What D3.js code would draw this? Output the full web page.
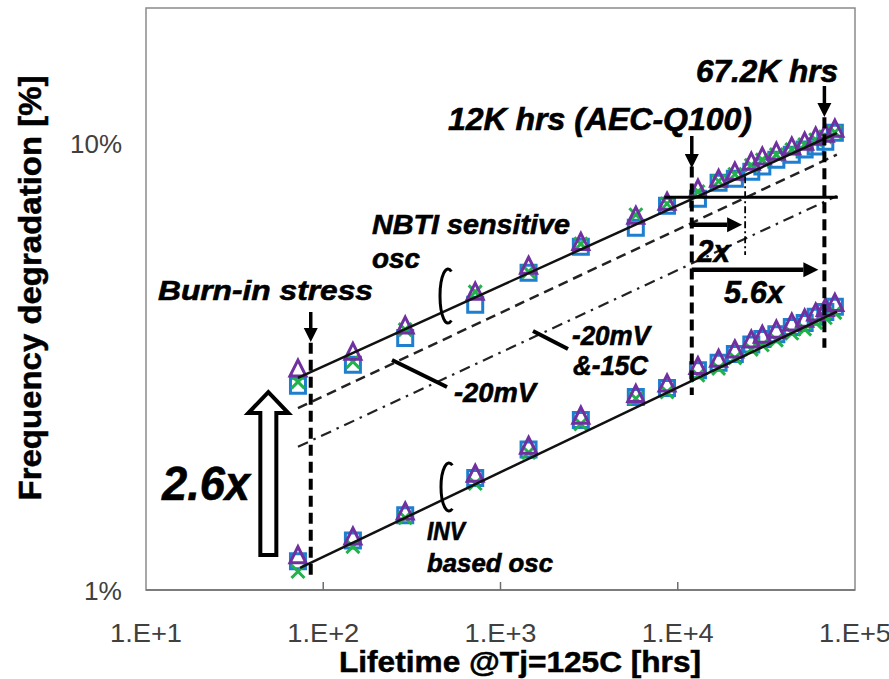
<!DOCTYPE html>
<meta charset="utf-8">
<head>
    <title>Frequency degradation vs lifetime</title>
    <style>
        html, body { margin: 0; padding: 0; background: #fff; }
        body { font-family: "Liberation Sans", Arial, sans-serif; }
        svg text { font-family: "Liberation Sans", Arial, sans-serif; }
        .note { font-weight: bold; font-style: italic; fill: #000; stroke: #000; stroke-width: 0.6; }
        .tick-label { fill: #404040; }
        .axis-title { font-weight: bold; fill: #000; stroke: #000; stroke-width: 0.5; }
    </style>
</head>
<body>
    <svg id="chart" width="889" height="679"></svg>
    <script src="https://cdn.jsdelivr.net/npm/d3@7"></script>
    <script>
        // stress time points [hrs @ Tj=125C]
        const hours = [72, 147, 290, 720, 1440, 2840, 5800, 8700, 13000, 17000,
                       21000, 26000, 30000, 36000, 44000, 52000, 60000, 68000, 77000];

        // NBTI sensitive oscillator, degradation [%]
        const nbtiTri = [3.11, 3.39, 3.88, 4.62, 5.28, 5.97, 6.83, 7.34, 7.85, 8.26,
                         8.57, 9.02, 9.26, 9.50, 9.75, 10.0, 10.26, 10.42, 10.69];
        const nbtiSq  = [2.86, 3.19, 3.66, 4.34, 5.12, 5.85, 6.45, 7.23, 7.49, 8.14,
                         8.30, 8.61, 8.84, 9.16, 9.40, 9.65, 9.80, 10.05, 10.53];
        const nbtiX   = [2.92, 3.24, 3.82, 4.64, 5.15, 5.94, 6.90, 7.30, 7.77, 8.20,
                         8.50, 8.90, 9.15, 9.40, 9.65, 9.90, 10.15, 10.30, 10.55];

        // INV based oscillator, degradation [%]
        const invTri = [1.19, 1.31, 1.49, 1.81, 2.09, 2.44, 2.73, 2.88, 3.15, 3.27,
                        3.43, 3.61, 3.70, 3.80, 3.94, 4.02, 4.15, 4.25, 4.36];
        const invSq  = [1.16, 1.29, 1.47, 1.78, 2.06, 2.40, 2.70, 2.83, 3.10, 3.22,
                        3.37, 3.54, 3.64, 3.73, 3.87, 3.95, 4.08, 4.18, 4.30];
        const invX   = [1.10, 1.25, 1.45, 1.73, 2.03, 2.35, 2.68, 2.77, 3.02, 3.13,
                        3.30, 3.45, 3.53, 3.62, 3.75, 3.83, 3.96, 4.06, 4.17];

        // power-law fits and shifted conditions: [hrs, %]
        const nbtiFit   = [[72, 2.98], [79000, 10.5]];
        const invFit    = [[74, 1.12], [79000, 4.19]];
        const fit20mV   = [[72, 2.55], [79000, 9.4]];
        const fit20mV15 = [[72, 2.09], [79000, 7.6]];

        // lifetime markers [hrs]
        const burnIn = 85, aecQ100 = 12000, lifetime2x = 24000, lifetime56x = 67200;
        const targetLevel = 7.55;

        const xTicks = [10, 100, 1000, 10000, 100000];
        const xTickLabels = ["1.E+1", "1.E+2", "1.E+3", "1.E+4", "1.E+5"];
        const yTicks = [1, 10];
        const yTickLabels = ["1%", "10%"];

        const colTri = "#7030a0", colSq = "#1f7fcf", colX = "#21b24b";

        const svg = d3.select("#chart");
        const margin = {left: 146, top: 8, right: 34, bottom: 89};
        const W = 889 - margin.left - margin.right;
        const H = 679 - margin.top - margin.bottom;

        const x = d3.scaleLog().domain([10, 100000]).range([0, W]);
        const y = d3.scaleLog().domain([1, 20]).range([H, 0]);

        const g = svg.append("g").attr("transform", `translate(${margin.left},${margin.top})`);

        // plot frame
        g.append("rect").attr("x", 0).attr("y", 0).attr("width", W).attr("height", H)
            .attr("fill", "none").attr("stroke", "#8a8a8a").attr("stroke-width", 1.5);
        g.append("line").attr("x1", 0).attr("x2", W).attr("y1", H).attr("y2", H)
            .attr("stroke", "#6e6e6e").attr("stroke-width", 1.5);

        // x ticks + labels
        g.selectAll(".xtick").data(xTicks.slice(1, -1)).join("line")
            .attr("x1", d => x(d)).attr("x2", d => x(d))
            .attr("y1", H).attr("y2", H - 8)
            .attr("stroke", "#6e6e6e").attr("stroke-width", 1.5);
        g.selectAll(".xlab").data(xTicks).join("text")
            .attr("class", "tick-label")
            .attr("x", d => x(d)).attr("y", H + 52)
            .attr("text-anchor", "middle").attr("font-size", 26)
            .attr("textLength", 72).attr("lengthAdjust", "spacingAndGlyphs")
            .text((d, i) => xTickLabels[i]);
        g.selectAll(".ylab").data(yTicks).join("text")
            .attr("class", "tick-label")
            .attr("x", -24).attr("y", d => y(d) + 10)
            .attr("text-anchor", "end").attr("font-size", 26)
            .attr("textLength", (d, i) => yTickLabels[i].length === 2 ? 38 : 52)
            .attr("lengthAdjust", "spacingAndGlyphs")
            .text((d, i) => yTickLabels[i]);

        // axis titles
        svg.append("text").attr("class", "axis-title")
            .attr("x", 520).attr("y", 672).attr("text-anchor", "middle")
            .attr("font-size", 29).attr("textLength", 362).attr("lengthAdjust", "spacingAndGlyphs")
            .text("Lifetime @Tj=125C [hrs]");
        svg.append("text").attr("class", "axis-title")
            .attr("transform", "translate(41,288) rotate(-90)").attr("text-anchor", "middle")
            .attr("font-size", 31).attr("textLength", 425).attr("lengthAdjust", "spacingAndGlyphs")
            .text("Frequency degradation [%]");

        const line = d3.line().x(d => x(d[0])).y(d => y(d[1]));

        // shifted-condition lines
        g.append("path").attr("d", line(fit20mV)).attr("fill", "none")
            .attr("stroke", "#222").attr("stroke-width", 2.5).attr("stroke-dasharray", "10,6");
        g.append("path").attr("d", line(fit20mV15)).attr("fill", "none")
            .attr("stroke", "#222").attr("stroke-width", 2.2).attr("stroke-dasharray", "11,6,2.5,6");

        // marker helpers
        function drawSeries(vals, shape, color) {
            const pts = hours.map((h, i) => [x(h), y(vals[i])]);
            let path;
            if (shape === "tri") path = "M0,-9.5L8,6.5L-8,6.5Z";
            else if (shape === "sq") path = "M-7.5,-7.5H7.5V7.5H-7.5Z";
            else path = "M-6.5,-6.5L6.5,6.5M6.5,-6.5L-6.5,6.5";
            g.append("g").selectAll("path").data(pts).join("path")
                .attr("transform", d => `translate(${d[0]},${d[1]})`)
                .attr("d", path).attr("fill", "none")
                .attr("stroke", color).attr("stroke-width", 3);
        }
        drawSeries(nbtiSq, "sq", colSq);
        drawSeries(nbtiX, "x", colX);
        drawSeries(nbtiTri, "tri", colTri);
        drawSeries(invSq, "sq", colSq);
        drawSeries(invX, "x", colX);
        drawSeries(invTri, "tri", colTri);

        // fit lines
        [nbtiFit, invFit].forEach(f => {
            g.append("path").attr("d", line(f)).attr("fill", "none")
                .attr("stroke", "#111").attr("stroke-width", 2.5);
        });

        // vertical lifetime lines
        function vDash(t, lo, hi, w, dash) {
            g.append("line").attr("x1", x(t)).attr("x2", x(t))
                .attr("y1", y(hi)).attr("y2", y(lo))
                .attr("stroke", "#000").attr("stroke-width", w).attr("stroke-dasharray", dash);
        }
        vDash(burnIn, 1.08, 3.57, 4, "11,6");
        vDash(aecQ100, 2.73, 8.84, 4, "11,6");
        vDash(lifetime56x, 3.48, 11.4, 4, "11,6");
        vDash(lifetime2x, 5.61, 8.41, 1.8, "7,3,2,3");

        // target degradation level
        g.append("line").attr("x1", x(8400)).attr("x2", x(80000))
            .attr("y1", y(targetLevel)).attr("y2", y(targetLevel))
            .attr("stroke", "#000").attr("stroke-width", 3);

        // arrows
        function arrow(x1, y1, x2, y2, w, head) {
            const a = Math.atan2(y2 - y1, x2 - x1);
            const bx = x2 - head * Math.cos(a), by = y2 - head * Math.sin(a);
            svg.append("line").attr("x1", x1).attr("y1", y1).attr("x2", bx).attr("y2", by)
                .attr("stroke", "#000").attr("stroke-width", w);
            const px = Math.sin(a) * head * 0.5, py = -Math.cos(a) * head * 0.5;
            svg.append("path")
                .attr("d", `M${x2},${y2}L${bx + px},${by + py}L${bx - px},${by - py}Z`)
                .attr("fill", "#000");
        }
        const X = t => margin.left + x(t), Y = v => margin.top + y(v);
        arrow(X(burnIn), 312, X(burnIn), 342, 3.5, 14);
        arrow(X(aecQ100), 136, X(aecQ100), 168, 3.5, 14);
        arrow(X(lifetime56x), 86, X(lifetime56x), 117, 3.5, 14);
        arrow(X(aecQ100), Y(6.55), X(lifetime2x) - 3, Y(6.55), 4.5, 15);
        arrow(X(aecQ100), Y(5.2), X(lifetime56x) - 6, Y(5.2), 4.5, 15);

        // hollow 2.6x arrow
        const ax = X(49), aTop = Y(2.77), aBot = Y(1.197);
        svg.append("path")
            .attr("d", `M${ax - 8},${aBot}V${aTop + 21}H${ax - 20}L${ax},${aTop}L${ax + 20},${aTop + 21}H${ax + 8}V${aBot}Z`)
            .attr("fill", "#fff").attr("stroke", "#000").attr("stroke-width", 4)
            .attr("stroke-linejoin", "miter");

        // group brackets
        function bracket(cx, cy, rx, ry) {
            const a0 = -65 * Math.PI / 180, a1 = 65 * Math.PI / 180;
            const sx = cx + rx * Math.cos(a0), sy = cy + ry * Math.sin(a0);
            const ex = cx + rx * Math.cos(a1), ey = cy + ry * Math.sin(a1);
            svg.append("path").attr("d", `M${sx},${sy}A${rx},${ry} 0 1 0 ${ex},${ey}`)
                .attr("fill", "none").attr("stroke", "#000").attr("stroke-width", 3);
        }
        bracket(448, 296, 8, 27);
        bracket(449, 487, 8, 24);

        // leader lines
        [[392, 360, 447, 387], [533, 331, 568, 349]].forEach(l => {
            svg.append("line").attr("x1", l[0]).attr("y1", l[1]).attr("x2", l[2]).attr("y2", l[3])
                .attr("stroke", "#000").attr("stroke-width", 4);
        });

        // annotations
        const notes = [
            ["67.2K hrs", 696, 82, 31, 142],
            ["12K hrs (AEC-Q100)", 448, 130, 31, 304],
            ["NBTI sensitive", 372, 234, 28, 198],
            ["osc", 372, 268, 28, 48],
            ["Burn-in stress", 158, 300, 28, 215],
            ["-20mV", 454, 402, 27, 82],
            ["-20mV", 572, 345, 27, 78],
            ["&-15C", 573, 375, 27, 75],
            ["2x", 697, 262, 31, 33],
            ["5.6x", 724, 303, 31, 60],
            ["INV", 427, 540, 25, 38],
            ["based osc", 427, 572, 25, 126],
            ["2.6x", 162, 500, 48, 88]
        ];
        svg.selectAll(".note").data(notes).join("text")
            .attr("class", "note")
            .attr("x", d => d[1]).attr("y", d => d[2])
            .attr("font-size", d => d[3])
            .attr("textLength", d => d[4]).attr("lengthAdjust", "spacingAndGlyphs")
            .text(d => d[0]);
    </script>
</body>
